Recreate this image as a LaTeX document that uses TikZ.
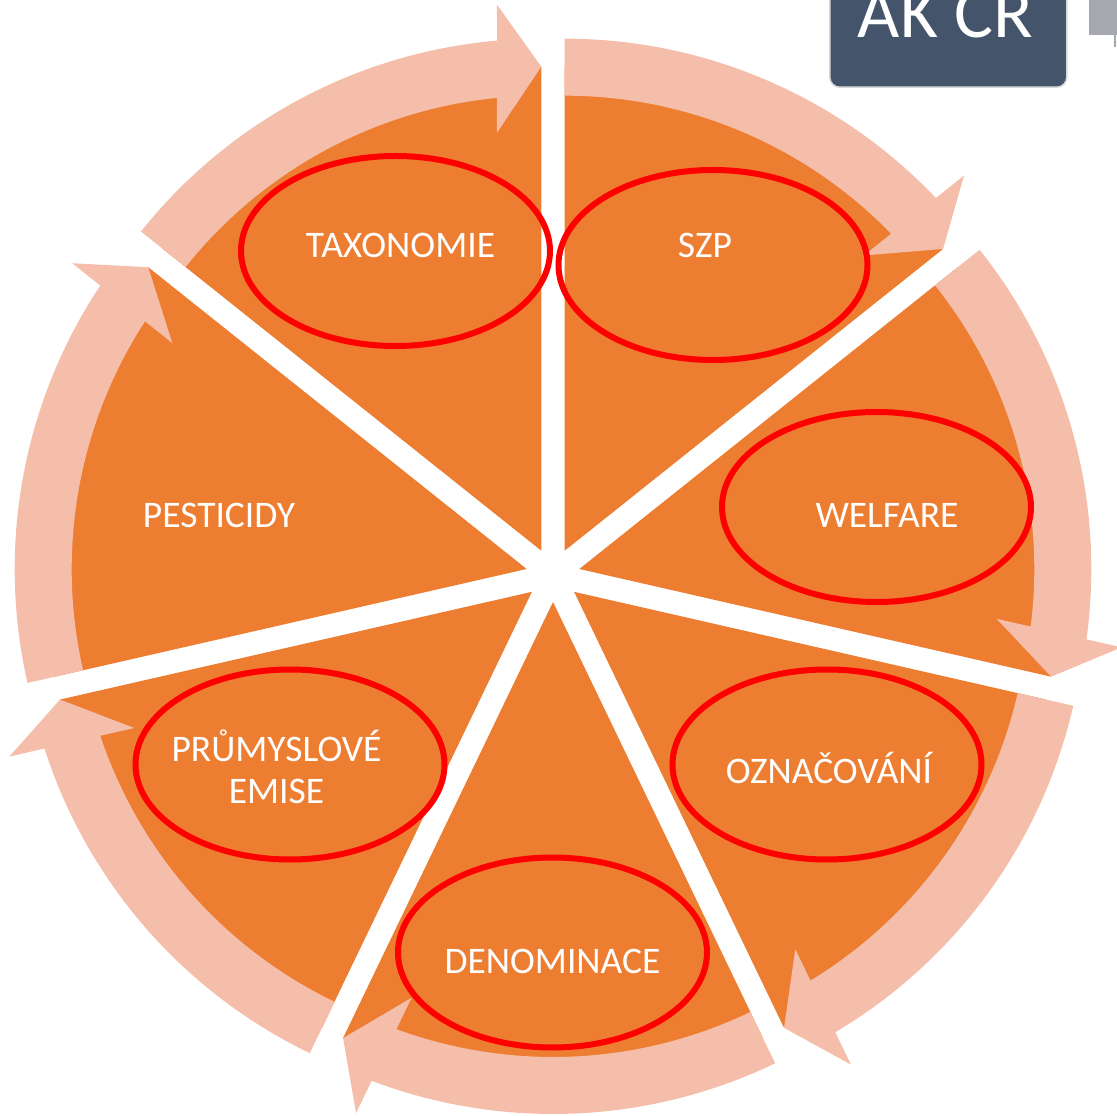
\documentclass[tikz,border=0pt]{standalone}
\usepackage{fontspec}
\setmainfont{Carlito}
\usetikzlibrary{shapes.geometric}
\definecolor{wedgeorange}{HTML}{ED7D31}
\definecolor{bandpink}{HTML}{F4BEAA}
\definecolor{akslate}{HTML}{44546A}
\definecolor{akgrey}{HTML}{A5A8AF}
\begin{document}
\begin{tikzpicture}[x=1pt, y=1pt,
  wedge/.style={fill=wedgeorange},
  band/.style={fill=bandpink},
  ring/.style={ellipse, draw=red, line width=6pt, minimum width=309pt, minimum height=190pt, inner sep=0pt},
  lbl/.style={text=white, font=\fontsize{37.5}{42}\selectfont, inner sep=0pt, anchor=base, align=center}]
  \clip (-553, -541) rectangle (564, 575);

  % wedges, each pushed out along its middle
  \fill[wedge] (115.71:27) -- ++(141.43:484) arc[start angle=141.43, end angle=90, radius=484pt] -- cycle;
  \fill[wedge] (64.29:27) -- ++(90:484) arc[start angle=90, end angle=38.57, radius=484pt] -- cycle;
  \fill[wedge] (12.86:27) -- ++(38.57:484) arc[start angle=38.57, end angle=-12.86, radius=484pt] -- cycle;
  \fill[wedge] (-38.57:27) -- ++(-12.86:484) arc[start angle=-12.86, end angle=-64.29, radius=484pt] -- cycle;
  \fill[wedge] (-90:27) -- ++(-64.29:484) arc[start angle=-64.29, end angle=-115.71, radius=484pt] -- cycle;
  \fill[wedge] (-141.43:27) -- ++(-115.71:484) arc[start angle=-115.71, end angle=-167.14, radius=484pt] -- cycle;
  \fill[wedge] (167.14:27) -- ++(192.86:484) arc[start angle=192.86, end angle=141.43, radius=484pt] -- cycle;

  % arrows round the outside
  \fill[band, shift={(115.71:27)}] (141.43:455) arc[start angle=141.43, end angle=95.59, radius=455pt] -- (96.05:420.3) -- (90:484) -- (94.64:547.8) -- (94.96:512) arc[start angle=94.96, end angle=141.43, radius=512pt] -- cycle;
  \fill[band, shift={(64.29:27)}] (90:455) arc[start angle=90, end angle=44.16, radius=455pt] -- (44.62:420.3) -- (38.57:484) -- (43.21:547.8) -- (43.53:512) arc[start angle=43.53, end angle=90, radius=512pt] -- cycle;
  \fill[band, shift={(12.86:27)}] (38.57:455) arc[start angle=38.57, end angle=-7.27, radius=455pt] -- (-6.81:420.3) -- (-12.86:484) -- (-8.22:547.8) -- (-7.90:512) arc[start angle=-7.90, end angle=38.57, radius=512pt] -- cycle;
  \fill[band, shift={(-38.57:27)}] (-12.86:455) arc[start angle=-12.86, end angle=-58.70, radius=455pt] -- (-58.24:420.3) -- (-64.29:484) -- (-59.65:547.8) -- (-59.33:512) arc[start angle=-59.33, end angle=-12.86, radius=512pt] -- cycle;
  \fill[band, shift={(-90:27)}] (-64.29:455) arc[start angle=-64.29, end angle=-110.13, radius=455pt] -- (-109.66:420.3) -- (-115.71:484) -- (-111.07:547.8) -- (-110.75:512) arc[start angle=-110.75, end angle=-64.29, radius=512pt] -- cycle;
  \fill[band, shift={(-141.43:27)}] (-115.71:455) arc[start angle=-115.71, end angle=-161.56, radius=455pt] -- (-161.09:420.3) -- (-167.14:484) -- (-162.50:547.8) -- (-162.18:512) arc[start angle=-162.18, end angle=-115.71, radius=512pt] -- cycle;
  \fill[band, shift={(167.14:27)}] (192.86:455) arc[start angle=192.86, end angle=147.02, radius=455pt] -- (147.48:420.3) -- (141.43:484) -- (146.07:547.8) -- (146.39:512) arc[start angle=146.39, end angle=192.86, radius=512pt] -- cycle;

  \node[ring] (taxring) at (-157.5, 324) {};
  \node[ring] (szpring) at (160, 310) {};
  \node[ring] (welring) at (323.5, 68) {};
  \node[ring] (oznring) at (274, -189.5) {};
  \node[ring] (denring) at (-0.5, -377.5) {};
  \node[ring] (emiring) at (-263, -189.5) {};

  \node[lbl] (taxonomie) at (-152.5, 317.5) {TAXONOMIE};
  \node[lbl] (szp) at (152, 317.5) {SZP};
  \node[lbl] (welfare) at (334, 47) {WELFARE};
  \node[lbl] (oznacovani) at (276, -208) {OZNAČOVÁNÍ};
  \node[lbl] (denominace) at (-0.5, -398) {DENOMINACE};
  \node[lbl] (emise) at (-276.5, -229) {PRŮMYSLOVÉ\\EMISE};
  \node[lbl] (pesticidy) at (-334, 47) {PESTICIDY};

  % title box, cut by the page top
  \node[fill=akslate, draw=black!15, line width=1.5pt, rounded corners=10pt, anchor=south west, minimum width=237pt, minimum height=150pt] (akbox) at (276, 487) {};
  \node[text=white, font=\fontsize{73}{80}\selectfont, inner sep=0pt, anchor=base] (ak) at (392.5, 537) {AK ČR};
  \fill[akgrey] (536, 540) rectangle (564, 575);
  \draw[akgrey, line width=1.5pt] (562, 540) -- (562, 528);
\end{tikzpicture}
\end{document}
